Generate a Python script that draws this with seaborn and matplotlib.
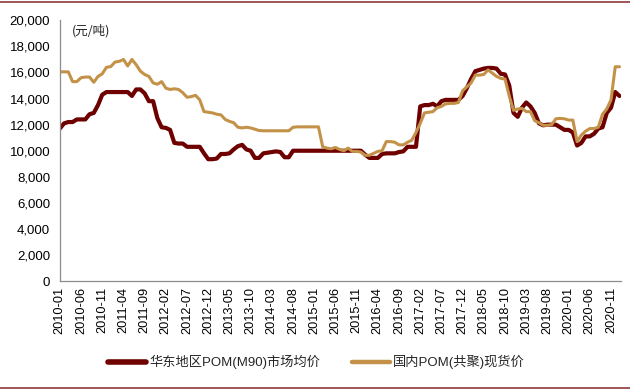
import numpy as np
import pandas as pd
import matplotlib
matplotlib.use("Agg")
import matplotlib.pyplot as plt
import seaborn as sns
from matplotlib.lines import Line2D
from matplotlib.ticker import FuncFormatter

# ---------------- data (monthly, 2010-01 .. 2021-01) ----------------
start_month = "2010-01"
east_china_m90 = [
    11700, 12100, 12200, 12200, 12400, 12400, 12400, 12800, 12900, 13500,
    14300, 14500, 14500, 14500, 14500, 14500, 14500, 14200, 14700, 14700,
    14400, 13800, 13800, 12500, 11800, 11750, 11600, 10600, 10550, 10550,
    10300, 10300, 10300, 10300, 9800, 9350, 9350, 9400, 9750, 9750,
    9800, 10100, 10350, 10450, 10100, 10000, 9450, 9450, 9800, 9850,
    9900, 9950, 9900, 9500, 9500, 10000, 10000, 10000, 10000, 10000,
    10000, 10000, 10000, 10000, 10000, 10000, 10000, 10000, 10000, 10000,
    10000, 10000, 9700, 9450, 9450, 9450, 9750, 9800, 9800, 9800,
    9900, 9950, 10300, 10300, 10300, 13400, 13500, 13500, 13600, 13400,
    13800, 13900, 13900, 13900, 13900, 14200, 14800, 15500, 16100, 16200,
    16300, 16350, 16350, 16300, 15900, 15850, 15000, 12900, 12600, 13300,
    13700, 13400, 12900, 12100, 11950, 12000, 12000, 12000, 11800, 11600,
    11600, 11400, 10400, 10600, 11100, 11100, 11300, 11700, 11800, 12900,
    13300, 14500, 14200,
]
domestic_copolymer = [
    16050, 16050, 16050, 15300, 15300, 15600, 15650, 15650, 15250, 15700,
    15900, 16400, 16450, 16800, 16850, 17000, 16500, 17000, 16600, 16100,
    15850, 15700, 15200, 15100, 15300, 14800, 14700, 14750, 14700, 14450,
    14100, 14150, 14250, 13900, 13000, 12950, 12900, 12800, 12750, 12400,
    12250, 12150, 11800, 11750, 11800, 11750, 11650, 11550, 11530, 11530,
    11530, 11530, 11530, 11530, 11530, 11800, 11830, 11830, 11830, 11830,
    11830, 11830, 10300, 10200, 10150, 10250, 10100, 10000, 10200, 9950,
    9950, 9900, 9650, 9650, 9800, 9950, 10000, 10700, 10700, 10650,
    10450, 10450, 10650, 10800, 11400, 12100, 12900, 12950, 13000, 13300,
    13400, 13600, 13630, 13630, 13700, 14600, 14900, 15200, 15800, 15800,
    15850, 16200, 15950, 15700, 15550, 15500, 14200, 13100, 13200, 13250,
    13000, 13000, 12300, 12150, 11950, 11950, 12000, 12450, 12480, 12450,
    12350, 12350, 10700, 11200, 11500, 11700, 11700, 11800, 12800, 13200,
    13900, 16440, 16440,
]
series_names = ["华东地区POM(M90)市场均价", "国内POM(共聚)现货价"]
series_colors = ["#6E0000", "#C39248"]
unit_label = "(元/吨)"
y_ticks = list(range(0, 20001, 2000))
tick_step = 5

months = pd.period_range(start_month, periods=len(east_china_m90), freq="M")
month_labels = [p.strftime("%Y-%m") for p in months]
idx = np.arange(len(months))

df = pd.concat([
    pd.DataFrame({"idx": idx, "value": east_china_m90, "series": series_names[0]}),
    pd.DataFrame({"idx": idx, "value": domestic_copolymer, "series": series_names[1]}),
])

# ---------------- style ----------------
sns.set_style("white")
plt.rcParams["font.family"] = ["Liberation Sans", "Noto Sans CJK SC", "DejaVu Sans"]
plt.rcParams["axes.unicode_minus"] = False

fig = plt.figure(figsize=(6.3, 3.91), dpi=100)
ax = fig.add_axes([0.095, 0.281, 0.891, 0.667])

widths = {series_names[0]: 3.0, series_names[1]: 2.2}
for name, color in zip(series_names, series_colors):
    sub = df[df["series"] == name]
    sns.lineplot(data=sub, x="idx", y="value", color=color, ax=ax,
                 linewidth=widths[name], legend=False)

ax.set_xlim(0, 132.4)
ax.set_ylim(0, 20000)
ax.set_yticks(y_ticks)
ax.yaxis.set_major_formatter(FuncFormatter(lambda v, p: f"{int(v):,}"))
xt = idx[::tick_step]
ax.set_xticks(xt)
ax.set_xticklabels([month_labels[i] for i in xt], rotation=90)
ax.set_xlabel("")
ax.set_ylabel("")

for s in ["top", "right"]:
    ax.spines[s].set_visible(False)
for s in ["left", "bottom"]:
    ax.spines[s].set_color("#8C8C8C")
    ax.spines[s].set_linewidth(0.9)

ax.tick_params(axis="y", direction="out", length=4, width=0.8, color="#8C8C8C",
               labelsize=9.5, labelcolor="#000000", pad=3)
ax.tick_params(axis="x", direction="in", length=3.5, width=0.8, color="#8C8C8C",
               labelsize=9.2, labelcolor="#000000", pad=4)

ax.text(0.022, 0.985, unit_label, transform=ax.transAxes, ha="left", va="top",
        fontsize=9, family=["Noto Sans CJK SC", "DejaVu Sans"], color="#222222")

handles = [Line2D([], [], color=c, linewidth=4.0 if i == 0 else 3.2)
           for i, c in enumerate(series_colors)]
fig.legend(handles, series_names, loc="center", bbox_to_anchor=(0.502, 0.074),
           ncol=2, frameon=False, fontsize=9.5, handlelength=2.9,
           handletextpad=0.2, columnspacing=2.4)

# decorative rules at top and bottom
fig.add_artist(Line2D([0, 1], [0.995, 0.995], transform=fig.transFigure,
                      color="#8B3A3A", linewidth=1.2))
fig.add_artist(Line2D([0, 1], [0.008, 0.008], transform=fig.transFigure,
                      color="#8B3A3A", linewidth=1.2))

fig.savefig("out.png", dpi=100)
